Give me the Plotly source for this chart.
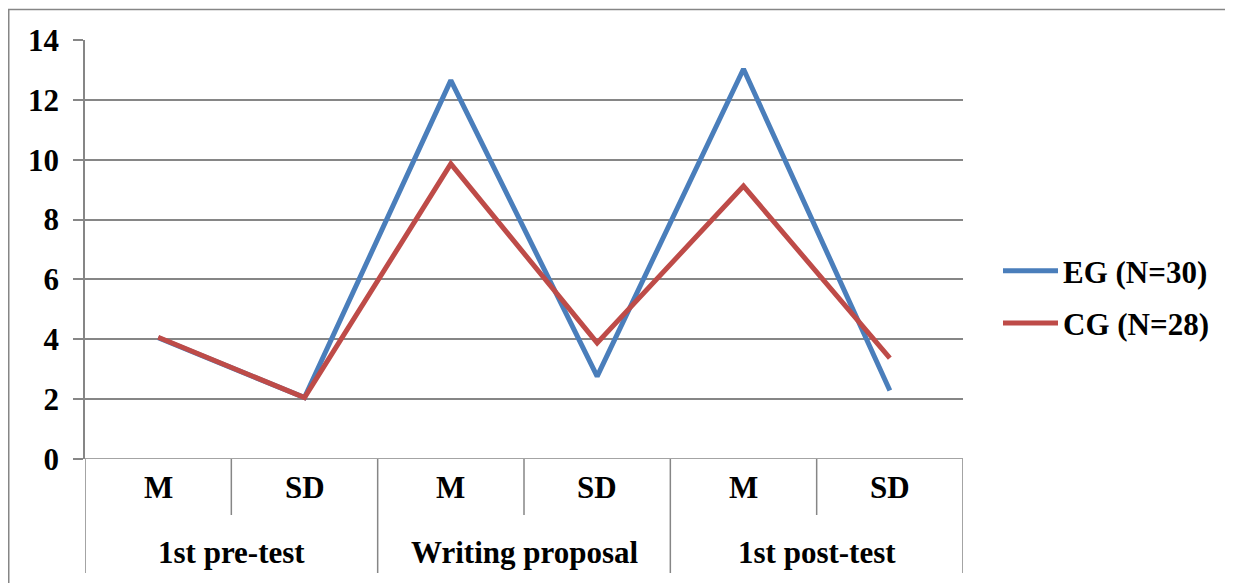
import plotly.graph_objects as go

categories = ["M", "SD", "M", "SD", "M", "SD"]
groups = ["1st pre-test", "Writing proposal", "1st post-test"]
eg_values = [4.05, 2.05, 12.65, 2.76, 13.03, 2.29]
cg_values = [4.07, 2.05, 9.86, 3.88, 9.12, 3.37]
series_names = ["EG (N=30)", "CG (N=28)"]
y_ticks = [0, 2, 4, 6, 8, 10, 12, 14]

FONT = dict(family="Liberation Serif", size=31, color="black", weight="bold")
GRID = "#868686"

x_idx = list(range(len(categories)))

fig = go.Figure()
fig.add_trace(go.Scatter(x=x_idx, y=eg_values, mode="lines", name=series_names[0], legendgroup="eg",
                         line=dict(color="#4A7EBB", width=5)))
fig.add_trace(go.Scatter(x=x_idx, y=cg_values, mode="lines", name=series_names[1], legendgroup="cg",
                         line=dict(color="#BE4B48", width=5)))

# page body has an 8px margin, so figure coords = screen coords - 8
OFF = 8
W, H = 1233, 583
L, T = 85 - OFF, 40 - OFF
X1, Y1 = 963 - OFF, 459 - OFF
R, B = W - X1, H - Y1
pw, ph = X1 - L, Y1 - T

fig.update_layout(
    width=W, height=H,
    margin=dict(l=L, r=R, t=T, b=B),
    paper_bgcolor="white", plot_bgcolor="white",
    font=FONT,
    showlegend=True,
    legend=dict(x=(998 - OFF - L) / pw, y=(Y1 - (297 - OFF)) / ph, xanchor="left", yanchor="middle",
                font=FONT, itemwidth=55, tracegroupgap=9, bgcolor="rgba(0,0,0,0)"),
    xaxis=dict(range=[-0.5, len(categories) - 0.5], showticklabels=False, showgrid=False,
               zeroline=False, showline=False, ticks="", fixedrange=True),
    yaxis=dict(range=[0, 14], tickvals=y_ticks, showgrid=True, gridcolor=GRID, gridwidth=1.5,
               zeroline=False, showline=True, linecolor=GRID, linewidth=1.5,
               ticks="outside", ticklen=10, tickcolor=GRID, tickwidth=1.5,
               tickfont=FONT, ticklabelstandoff=8),
)

shapes = []
shapes.append(dict(type="line", xref="paper", yref="y", x0=0, x1=1, y0=0, y1=0,
                   line=dict(color=GRID, width=1.5)))
inner_depth = -56 / ph
outer_depth = -114 / ph
for i in range(len(categories) + 1):
    xb = i - 0.5
    depth = outer_depth if i % 2 == 0 else inner_depth
    shapes.append(dict(type="line", xref="x", yref="paper", x0=xb, x1=xb, y0=0, y1=depth,
                       line=dict(color=GRID, width=1.5)))
# outer chart frame (top and left visible)
shapes.append(dict(type="rect", xref="paper", yref="paper",
                   x0=(0.75 - L) / pw, x1=(W + 20 - L) / pw, y0=(Y1 - (H + 20)) / ph, y1=(Y1 - 1.5) / ph,
                   line=dict(color=GRID, width=1.5), fillcolor="rgba(0,0,0,0)", layer="below"))
fig.update_layout(shapes=shapes)

annotations = []
for i, c in enumerate(categories):
    annotations.append(dict(x=i, y=0, xref="x", yref="paper", text=c, showarrow=False,
                            yanchor="middle", yshift=-28, font=FONT))
for g, name in enumerate(groups):
    annotations.append(dict(x=2 * g + 0.5, y=0, xref="x", yref="paper", text=name, showarrow=False,
                            yanchor="middle", yshift=-93, font=FONT))
fig.update_layout(annotations=annotations)

fig.write_html("out.html")
